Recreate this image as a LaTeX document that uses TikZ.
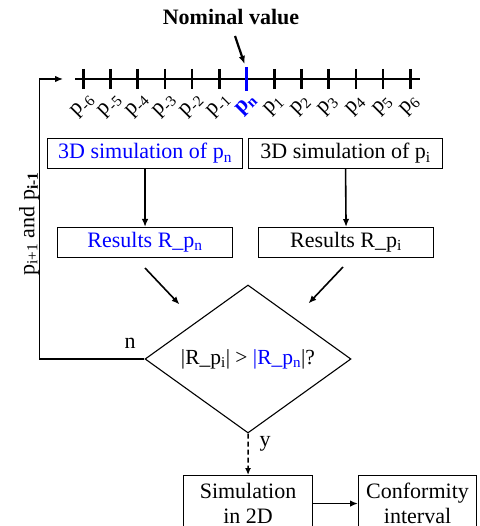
\documentclass[tikz,border=0pt]{standalone}
\usepackage{fontspec}
\setmainfont{Liberation Serif}
\usetikzlibrary{shapes.geometric,arrows.meta}
\definecolor{pblue}{RGB}{0,0,255}
\newcommand{\sbs}[1]{\textsubscript{#1}}
\begin{document}
\begin{tikzpicture}[x=1pt,y=-1pt,
  txt/.style={font=\fontsize{22}{25}\selectfont, inner sep=0pt},
  box/.style={draw, line width=1.1pt, font=\fontsize{22}{25}\selectfont, inner sep=0pt, anchor=north west},
  tick/.style={line width=2.6pt},
  arr/.style={line width=1.6pt, -{Latex[length=8pt,width=6.5pt]}},
  lbl/.style={font=\fontsize{22}{24}\selectfont, rotate=45, inner sep=0pt}]
\useasboundingbox (0,0) rectangle (479,526);
\clip (0,0) rectangle (479,526);
% axis
\coordinate (axL) at (75,79);
\coordinate (axR) at (420,79);
\draw[line width=1.3pt] (axL) -- (axR);
\foreach \x/\s [count=\i] in {83.3/-6,110.5/-5,137.7/-4,164.9/-3,192.1/-2,219.3/-1}{
  \draw[tick] (\x,69) -- (\x,89);
  \node[lbl] (lm\i) at (\x,106) {p\sbs{\s}};
}
\foreach \x/\s [count=\i] in {274.3/1,301.5/2,328.7/3,355.9/4,383.1/5,410.3/6}{
  \draw[tick] (\x,69) -- (\x,89);
  \node[lbl] (lp\i) at (\x,106) {p\sbs{\s}};
}
\draw[line width=3.4pt, pblue] (246.7,67) -- (246.7,91);
\node[lbl, text=pblue, font=\fontsize{22}{24}\selectfont\bfseries] (lpn) at (246.7,105) {p\sbs{n}};
% nominal value
\node[txt, font=\fontsize{22}{25}\selectfont\bfseries] (nom) at (231,17) {Nominal value};
\coordinate (nomS) at (235,36);
\coordinate (nomE) at (244.5,64);
\draw[arr, line width=2.2pt] (nomS) -- (nomE);
% boxes
\node[box, minimum width=195pt, minimum height=30pt, text=pblue] (b1) at (47,138) {3D simulation of p\sbs{n}};
\node[box, minimum width=194pt, minimum height=30pt] (b2) at (248,138) {3D simulation of p\sbs{i}};
\node[box, minimum width=175pt, minimum height=30pt, text=pblue] (b3) at (57,227) {Results R\_p\sbs{n}};
\node[box, minimum width=175pt, minimum height=30pt] (b4) at (258,227) {Results R\_p\sbs{i}};
\draw[arr] (b1.south) -- (b3.north);
\draw[arr] (b2.south) -- (b4.north);
% diamond
\node[draw, line width=1.1pt, shape=diamond, aspect=1.39, minimum width=206pt, minimum height=148pt, inner sep=0pt, font=\fontsize{21.5}{24}\selectfont] (dia) at (248,359) {\raisebox{-2pt}{|R\_p\sbs{i}| > \textcolor{pblue}{|R\_p\sbs{n}}|?}};
\coordinate (aL) at (145,268);
\coordinate (aLe) at (179.5,304.5);
\coordinate (aR) at (343,267);
\coordinate (aRe) at (308.5,303.5);
\draw[arr] (aL) -- (aLe);
\draw[arr] (aR) -- (aRe);
% loop back
\coordinate (lpend) at (63,79);
\draw[arr, line width=1.3pt] (dia.west) -- (39.5,359) -- (39.5,79) -- (lpend);
\node[txt] (nlab) at (130,343) {n};
\node[txt, rotate=90] (loopl) at (29,224) {p\sbs{i+1} and p\sbs{\textbf{i-1}}};
% bottom
\node[box, minimum width=129pt, minimum height=56pt, align=center] (b5) at (183,475) {Simulation\\in 2D};
\node[box, minimum width=118pt, minimum height=56pt, align=center] (b6) at (358,475) {Conformity\\interval};
\draw[line width=1.5pt, dash pattern=on 5pt off 3pt, -{Latex[length=7pt,width=6pt]}] (dia.south) -- (b5.north);
\node[txt] (ylab) at (265,444) {y};
\draw[arr] (b5.east) -- (b6.west);
\end{tikzpicture}
\end{document}
